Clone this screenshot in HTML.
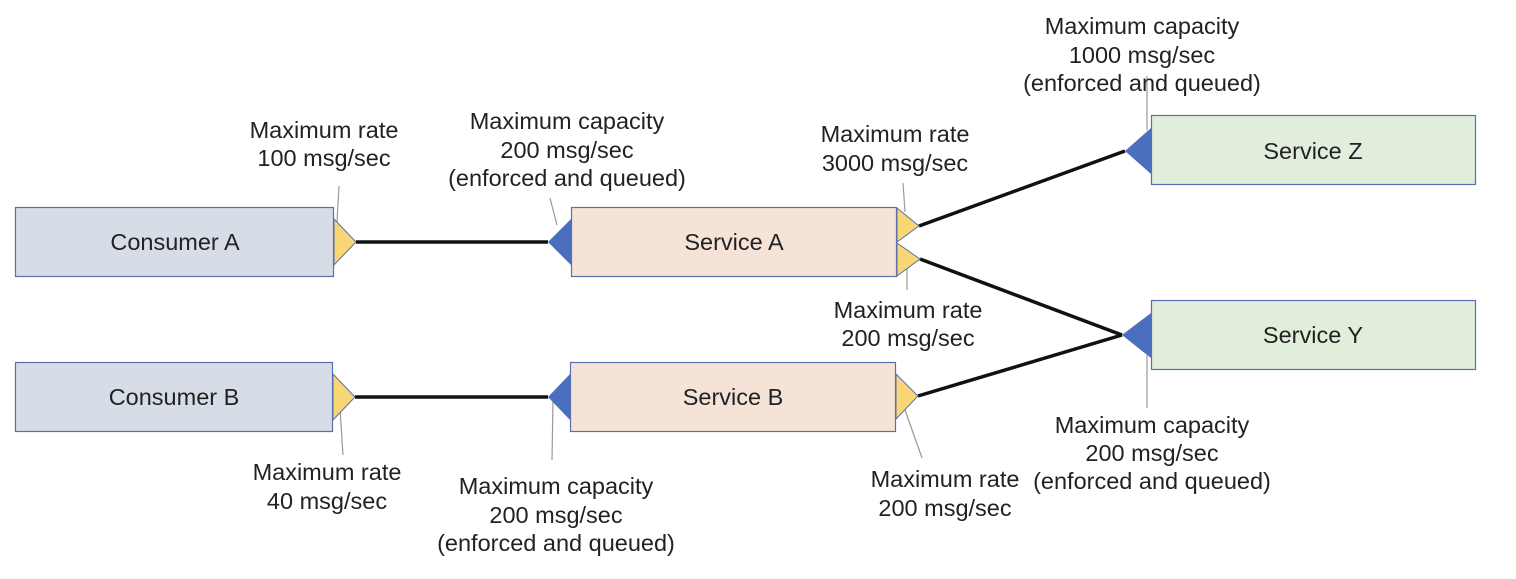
<!DOCTYPE html>
<html><head><style>html,body{margin:0;padding:0;background:#fff}</style></head><body>
<svg width="1516" height="574" xmlns="http://www.w3.org/2000/svg" font-family="Liberation Sans, Arial, sans-serif" font-size="23.5" fill="#222">
<rect x="0" y="0" width="1516" height="574" fill="#fff"/>
<g stroke="#5a6fad" stroke-width="1.2">
<rect x="15.5" y="207.5" width="318" height="69" fill="#d7dde6"/>
<rect x="15.5" y="362.5" width="317" height="69" fill="#d7dde6"/>
<rect x="571.5" y="207.5" width="325" height="69" fill="#f6e3d7"/>
<rect x="570.5" y="362.5" width="325" height="69" fill="#f6e3d7"/>
<rect x="1151.5" y="115.5" width="324" height="69" fill="#e1eedb"/>
<rect x="1151.5" y="300.5" width="324" height="69" fill="#e1eedb"/>
</g>
<g stroke="#999" stroke-width="1.2">
<line x1="339" y1="186" x2="337" y2="222"/>
<line x1="550" y1="198" x2="557" y2="225"/>
<line x1="903" y1="183" x2="905" y2="212"/>
<line x1="907" y1="268" x2="907" y2="290"/>
<line x1="1147" y1="76" x2="1147" y2="130"/>
<line x1="1147" y1="355" x2="1147" y2="408"/>
<line x1="340" y1="410" x2="343" y2="455"/>
<line x1="553" y1="400" x2="552" y2="460"/>
<line x1="905" y1="410" x2="922" y2="458"/>
</g>
<g stroke="#111" stroke-width="3.5">
<line x1="356" y1="242" x2="548" y2="242"/>
<line x1="355" y1="397" x2="548" y2="397"/>
<line x1="919" y1="226" x2="1125" y2="151"/>
<line x1="920" y1="259" x2="1122" y2="335"/>
<line x1="918" y1="396" x2="1122" y2="335"/>
</g>
<g fill="#f8d675" stroke="#5a6fad" stroke-width="1">
<polygon points="334,219 356,242 334,265"/>
<polygon points="333,374 355,397 333,420"/>
<polygon points="897,208 919,226 897,242"/>
<polygon points="897,243 920,259 897,276"/>
<polygon points="896,374 918,396 896,419"/>
</g>
<g fill="#4a6fbf">
<polygon points="571,219 548,242 571,265"/>
<polygon points="570,374 548,397 570,420"/>
<polygon points="1151,128 1125,151 1151,174"/>
<polygon points="1151,313 1122,335 1151,358"/>
</g>
<g text-anchor="middle">
<text x="175" y="250">Consumer A</text>
<text x="174" y="405">Consumer B</text>
<text x="734" y="250">Service A</text>
<text x="733" y="405">Service B</text>
<text x="1313" y="159">Service Z</text>
<text x="1313" y="343">Service Y</text>
<text x="324" y="138">Maximum rate</text><text x="324" y="166">100 msg/sec</text>
<text x="567" y="129">Maximum capacity</text><text x="567" y="158">200 msg/sec</text><text x="567" y="186">(enforced and queued)</text>
<text x="895" y="142">Maximum rate</text><text x="895" y="171">3000 msg/sec</text>
<text x="1142" y="34">Maximum capacity</text><text x="1142" y="63">1000 msg/sec</text><text x="1142" y="91">(enforced and queued)</text>
<text x="908" y="318">Maximum rate</text><text x="908" y="346">200 msg/sec</text>
<text x="1152" y="433">Maximum capacity</text><text x="1152" y="461">200 msg/sec</text><text x="1152" y="489">(enforced and queued)</text>
<text x="945" y="487">Maximum rate</text><text x="945" y="516">200 msg/sec</text>
<text x="327" y="480">Maximum rate</text><text x="327" y="509">40 msg/sec</text>
<text x="556" y="494">Maximum capacity</text><text x="556" y="523">200 msg/sec</text><text x="556" y="551">(enforced and queued)</text>
</g>
</svg>
</body></html>
